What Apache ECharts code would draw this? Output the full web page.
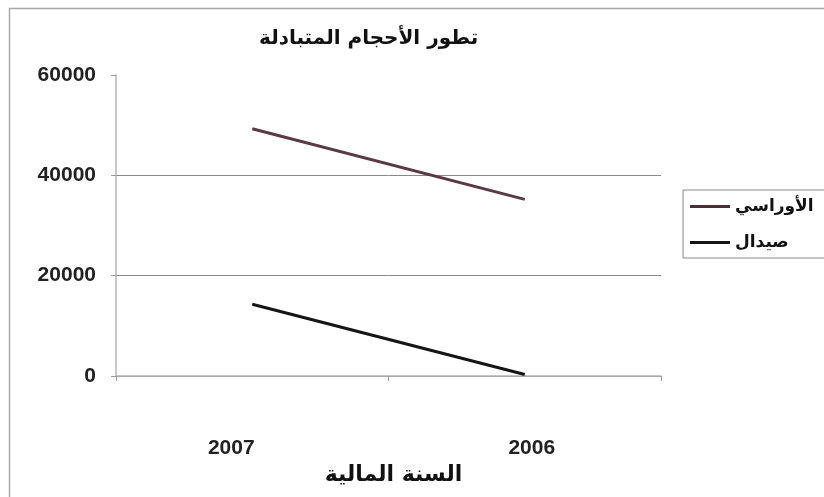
<!DOCTYPE html>
<html>
<head>
<meta charset="utf-8">
<script src="https://cdn.jsdelivr.net/npm/echarts@6/dist/echarts.min.js"></script>
<style>html,body{margin:0;padding:0;background:#fff}#c{width:824px;height:497px}</style>
</head>
<body>
<div id="c"></div>
<script>
var categories = ['2007', '2006'];
var seriesNames = ['الأوراسي', 'صيدال'];
var ouarsenisValues = [49300, 35200];
var saidalValues = [14300, 300];
var yTicks = [0, 20000, 40000, 60000];

var chart = echarts.init(document.getElementById('c'));
var arab = 'DejaVu Sans';
chart.setOption({
  animation: false,
  backgroundColor: '#fff',
  graphic: [{
    type: 'rect', shape: {x: 9.5, y: 8.5, width: 900, height: 600},
    style: {fill: 'none', stroke: '#a8a8a8', lineWidth: 1.5}, silent: true
  }],
  title: {
    text: 'تطور الأحجام المتبادلة', left: 254, top: 24,
    textStyle: {fontFamily: arab, fontWeight: 'bold', fontSize: 20, color: '#111'}
  },
  legend: {
    left: 683, top: 190, orient: 'vertical',
    data: seriesNames,
    icon: 'rect', itemWidth: 40, itemHeight: 3, itemGap: 19,
    borderColor: '#888', borderWidth: 1, padding: [8, 40, 7, 7],
    textStyle: {fontFamily: arab, fontWeight: 'bold', fontSize: 17, color: '#111'}
  },
  grid: {left: 116, right: 163, top: 75, bottom: 121},
  xAxis: {
    type: 'category',
    data: [
      {value: categories[0], textStyle: {padding: [0, 42, 0, 0]}},
      {value: categories[1], textStyle: {padding: [0, 0, 0, 14]}}
    ],
    boundaryGap: true,
    name: 'السنة المالية', nameLocation: 'middle', nameGap: 86,
    nameTextStyle: {fontFamily: arab, fontWeight: 'bold', fontSize: 22, color: '#111', padding: [0, 0, 0, 10]},
    axisLine: {lineStyle: {color: '#b4b4b4', width: 1.5}},
    axisTick: {show: true, length: 5, lineStyle: {color: '#999'}},
    axisLabel: {margin: 62, fontFamily: 'Liberation Sans', fontWeight: 'bold', fontSize: 21, color: '#222'},
    splitLine: {show: false}
  },
  yAxis: {
    type: 'value', min: yTicks[0], max: yTicks[yTicks.length - 1], interval: 20000,
    axisLine: {show: true, lineStyle: {color: '#b4b4b4', width: 1.5}},
    axisTick: {show: true, length: 5, lineStyle: {color: '#999'}},
    axisLabel: {margin: 20, fontFamily: 'Liberation Sans', fontWeight: 'bold', fontSize: 21, color: '#222',
      formatter: function (v) { return String(v); }},
    splitLine: {show: true, lineStyle: {color: ['#888', '#888', '#888', 'rgba(0,0,0,0)'], width: 1}},
  },
  series: [
    {
      name: seriesNames[0], type: 'line', data: ouarsenisValues,
      symbol: 'none', color: '#4a2f37',
      lineStyle: {width: 3, color: '#5a3a44'}
    },
    {
      name: seriesNames[1], type: 'line', data: saidalValues,
      symbol: 'none', color: '#151515',
      lineStyle: {width: 3, color: '#151515'}
    }
  ]
});
</script>
</body>
</html>
